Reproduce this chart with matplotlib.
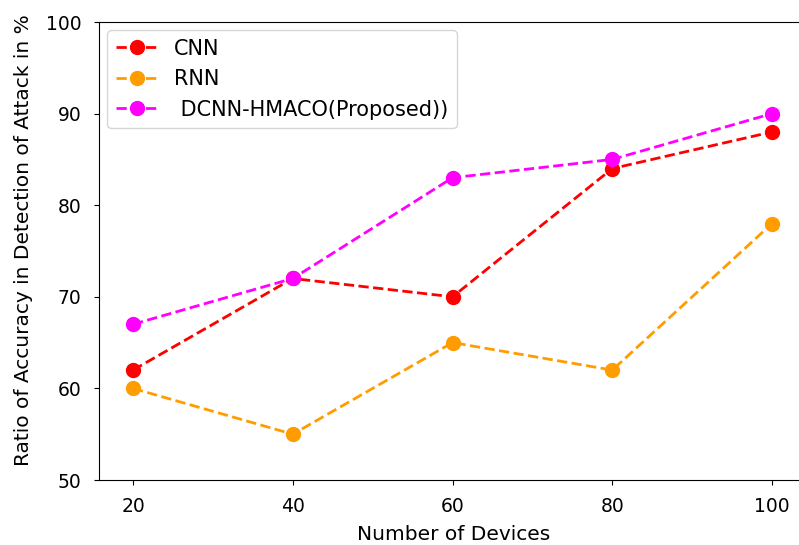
import matplotlib
matplotlib.use('Agg')
from matplotlib import pyplot as plt

devices = [20, 40, 60, 80, 100]
cnn = [62, 72, 70, 84, 88]
rnn = [60, 55, 65, 62, 78]
dcnn = [67, 72, 83, 85, 90]

fig = plt.figure(figsize=(7.99, 5.45), dpi=100)
# right spine sits just past the image edge, as in the reference
ax = fig.add_axes([99 / 799, 1 - 480 / 545, 709 / 799, 458 / 545])

ax.plot(devices, cnn, '--o', color='red', linewidth=2, markersize=10, label='CNN')
ax.plot(devices, rnn, '--o', color='#ff9d00', linewidth=2, markersize=10, label='RNN')
ax.plot(devices, dcnn, '--o', color='magenta', linewidth=2, markersize=10, label=' DCNN-HMACO(Proposed))')

ax.set_xlim(15.74, 104.5)
ax.set_ylim(50, 100)
ax.set_xticks(devices)
ax.tick_params(labelsize=13.5, pad=9)
ax.spines['right'].set_visible(False)
ax.set_xlabel('Number of Devices', fontsize=14.5)
ax.set_ylabel('Ratio of Accuracy in Detection of Attack in %', fontsize=14.5)
ax.yaxis.set_label_coords(-0.093, 0.524)
ax.xaxis.set_label_coords(0.5, -0.098)
ax.legend(loc='upper left', fontsize=15, borderaxespad=0.4)

fig.savefig('out.png', dpi=100)
